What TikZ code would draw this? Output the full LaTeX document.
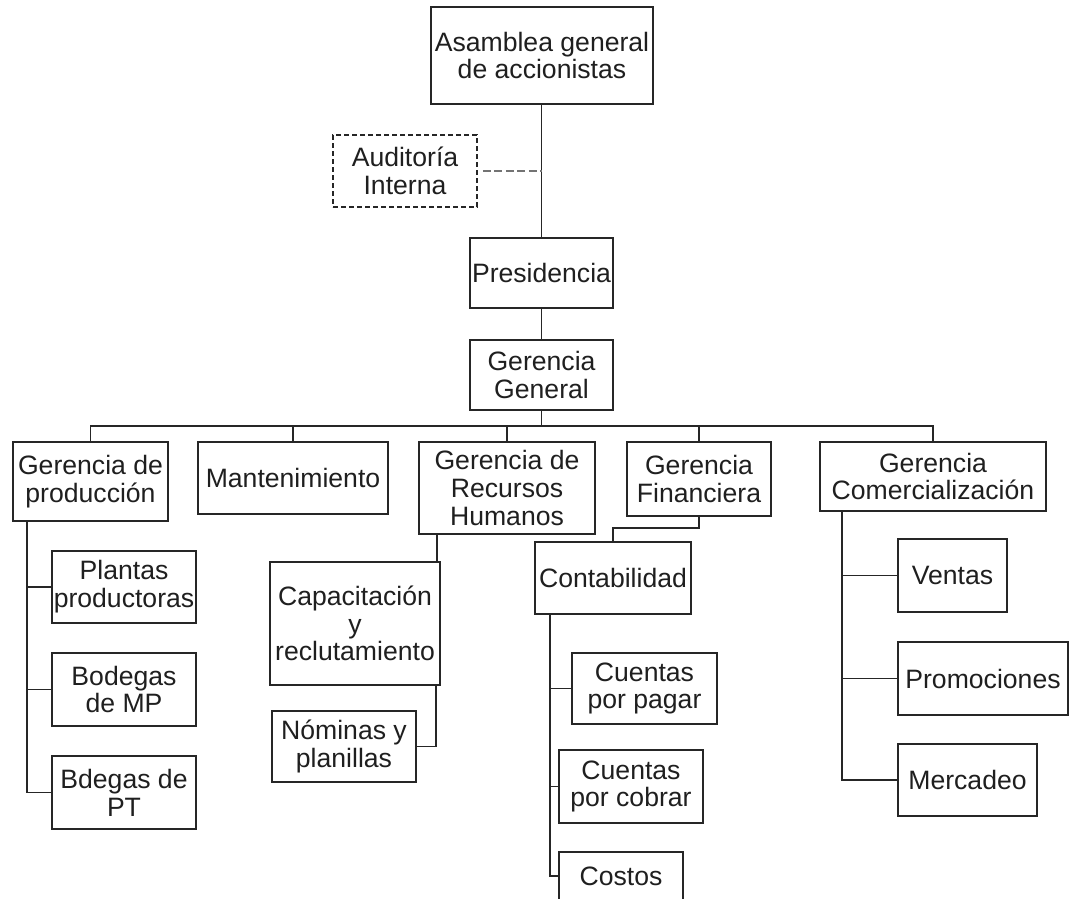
\documentclass[tikz,border=0pt]{standalone}
\usepackage{fontspec}
\setmainfont{Liberation Sans}
\begin{document}
\begin{tikzpicture}[x=1pt,y=-1pt,
  box/.style={draw=black!85, line width=1.7pt, rectangle, inner sep=0pt,
    align=center, font=\fontsize{26.6}{27.8}\selectfont, text=black!88},
  dashbox/.style={box, dash pattern=on 5pt off 3pt},
  link/.style={draw=black!85, line width=1.7pt},
  dashlink/.style={draw=black!55, line width=1.7pt, dash pattern=on 8pt off 3.5pt}]
\useasboundingbox (0,0) rectangle (1069,899);
\clip (0,0) rectangle (1069,899);

% top of the hierarchy
\node[box, minimum width=222pt, minimum height=97pt] (asam) at (542,55.5) {Asamblea general\\de accionistas};
\node[dashbox, minimum width=144pt, minimum height=72pt] (audit) at (405,171) {Auditoría\\Interna};
\node[box, minimum width=143pt, minimum height=70pt] (pres) at (541.5,273) {Presidencia};
\node[box, minimum width=143pt, minimum height=70pt] (gg) at (541.5,375) {Gerencia\\General};

% management level
\node[box, minimum width=155pt, minimum height=79pt] (prod) at (90.5,481.5) {Gerencia de\\producción};
\node[box, minimum width=190pt, minimum height=72pt] (mant) at (293,478) {Mantenimiento};
\node[box, minimum width=176pt, minimum height=92pt] (rrhh) at (507,488) {Gerencia de\\Recursos\\Humanos};
\node[box, minimum width=144pt, minimum height=74pt] (fin) at (699,479) {Gerencia\\Financiera};
\node[box, minimum width=226pt, minimum height=69pt] (com) at (933,476.5) {Gerencia\\Comercialización};

% production
\node[box, minimum width=144pt, minimum height=72pt] (plantas) at (124,587) {Plantas\\productoras};
\node[box, minimum width=144pt, minimum height=73pt] (bodmp) at (124,689.5) {Bodegas\\de MP};
\node[box, minimum width=144pt, minimum height=73pt] (bodpt) at (124,792.5) {Bdegas de\\PT};

% human resources
\node[box, minimum width=170pt, minimum height=123pt] (capac) at (355,623.5) {Capacitación\\y\\reclutamiento};
\node[box, minimum width=144pt, minimum height=71pt] (nomin) at (344,746.5) {Nóminas y\\planillas};

% finance
\node[box, minimum width=156pt, minimum height=72pt] (conta) at (613,578) {Contabilidad};
\node[box, minimum width=145pt, minimum height=71pt] (cpp) at (644.5,688.5) {Cuentas\\por pagar};
\node[box, minimum width=144pt, minimum height=73pt] (cpc) at (631,786.5) {Cuentas\\por cobrar};
\node[box, minimum width=124pt, minimum height=48pt] (costos) at (621,876) {Costos};

% sales
\node[box, minimum width=109pt, minimum height=73pt] (ventas) at (952.5,575.5) {Ventas};
\node[box, minimum width=170pt, minimum height=73pt] (promo) at (983,678.5) {Promociones};
\node[box, minimum width=139pt, minimum height=72pt] (merca) at (967.5,780) {Mercadeo};

% connectors
\draw[link] (pres.north) -- (pres.north |- asam.south);
\draw[dashlink] ([xshift=5pt]audit.east) -- (audit.east -| pres.north);
\draw[link] (pres.south) -- (gg.north);
\foreach \c in {prod,mant,rrhh,fin,com}
  \draw[link] (gg.south) -- (gg.south |- 0,426) -| (\c.north);

\foreach \c in {plantas,bodmp,bodpt}
  \draw[link] ([xshift=15pt]prod.south west) |- (\c.west);

\draw[link] (rrhh.south -| 437,0) -- (capac.north -| 437,0);
\draw[link] (capac.south -| 436,0) |- (nomin.east);

\draw[link] (fin.south) -- ++(0,11) -| (conta.north);
\foreach \c in {cpp,cpc,costos}
  \draw[link] ([xshift=16pt]conta.south west) |- (\c.west);

\foreach \c in {ventas,promo,merca}
  \draw[link] ([xshift=23pt]com.south west) |- (\c.west);
\end{tikzpicture}
\end{document}
